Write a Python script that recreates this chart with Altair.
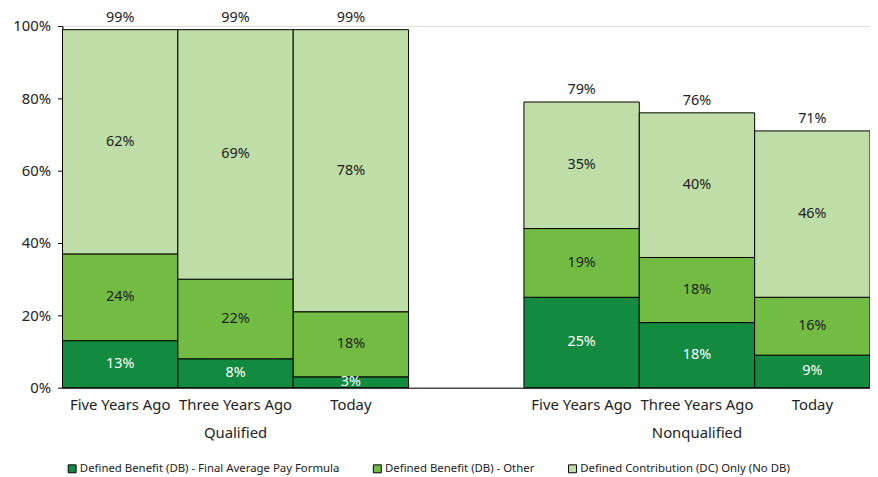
import altair as alt
import pandas as pd

keys = ["Q1", "Q2", "Q3", "gap", "N1", "N2", "N3"]
tick_labels = ["Five Years Ago", "Three Years Ago", "Today", "", "Five Years Ago", "Three Years Ago", "Today"]
bar_keys = ["Q1", "Q2", "Q3", "N1", "N2", "N3"]
series = [
    "Defined Benefit (DB) - Final Average Pay Formula",
    "Defined Benefit (DB) - Other",
    "Defined Contribution (DC) Only (No DB)",
]
db_final = [13, 8, 3, 25, 18, 9]
db_other = [24, 22, 18, 19, 18, 16]
dc_only = [62, 69, 78, 35, 40, 46]
totals = [99, 99, 99, 79, 76, 71]
group_keys = ["Q2", "N2"]
group_names = ["Qualified", "Nonqualified"]
colors = ["#128A3F", "#72BC44", "#BFDDA6"]

rows = []
for i, k in enumerate(bar_keys):
    for j, (s, vals) in enumerate(zip(series, [db_final, db_other, dc_only])):
        rows.append({"key": k, "series": s, "order": j, "value": vals[i]})
df = pd.DataFrame(rows)
tot_df = pd.DataFrame({"key": bar_keys, "total": totals})
grp_df = pd.DataFrame({"key": group_keys, "group": group_names})

FONT = "Noto Sans"
TXT = "#222"
W, H = 815, 365

label_expr = "[" + ",".join("'" + t + "'" for t in tick_labels) + "][indexof([" + ",".join("'" + k + "'" for k in keys) + "], datum.value)]"

xenc = alt.X(
    "key:N",
    sort=keys,
    scale=alt.Scale(domain=keys, paddingInner=0, paddingOuter=0),
    axis=alt.Axis(
        title=None, labelAngle=0, ticks=False, labelExpr=label_expr,
        domainColor="black", labelFontSize=15, labelColor=TXT,
        labelFont=FONT, labelPadding=10,
    ),
)

base = alt.Chart(df)

bars = base.mark_bar(stroke="black", strokeWidth=1).encode(
    x=xenc,
    y=alt.Y(
        "value:Q",
        stack="zero",
        scale=alt.Scale(domain=[0, 100], nice=False),
        axis=alt.Axis(
            title=None, values=[0, 20, 40, 60, 80, 100], labelExpr="datum.value + '%'",
            grid=False, domainColor="black", tickColor="black", tickSize=5,
            labelFontSize=15, labelColor=TXT, labelFont=FONT, labelPadding=7,
        ),
    ),
    color=alt.Color(
        "series:N",
        sort=series,
        scale=alt.Scale(domain=series, range=colors),
        legend=alt.Legend(
            title=None, orient="none", direction="horizontal", legendX=4, legendY=441,
            symbolType="square", symbolStrokeColor="black", symbolStrokeWidth=1,
            symbolSize=64, labelFontSize=11.5, labelFont=FONT, labelColor=TXT,
            columnPadding=31, symbolOffset=0, labelOffset=2, labelLimit=0,
        ),
    ),
    order=alt.Order("order:Q"),
)

seg_text = base.transform_stack(
    stack="value", as_=["v0", "v1"], groupby=["key"], sort=[alt.SortField("order")]
).transform_calculate(
    mid="(datum.v0 + datum.v1) / 2", lab="datum.value + '%'"
).mark_text(fontSize=14.5, font=FONT).encode(
    x=alt.X("key:N", sort=keys, scale=alt.Scale(domain=keys)),
    y=alt.Y("mid:Q"),
    text="lab:N",
    color=alt.condition(alt.datum.order == 0, alt.value("white"), alt.value(TXT)),
)

tot_text = alt.Chart(tot_df).transform_calculate(lab="datum.total + '%'").mark_text(
    fontSize=14.5, font=FONT, baseline="bottom", dy=-5, color=TXT
).encode(
    x=alt.X("key:N", sort=keys, scale=alt.Scale(domain=keys)),
    y=alt.Y("total:Q"),
    text="lab:N",
)

grp_text = alt.Chart(grp_df).mark_text(
    fontSize=15, font=FONT, baseline="middle", color=TXT
).encode(
    x=alt.X("key:N", sort=keys, scale=alt.Scale(domain=keys)),
    y=alt.value(H + 46),
    text="group:N",
)

chart = alt.layer(bars, seg_text, tot_text, grp_text).properties(
    width=W, height=H,
    autosize=alt.AutoSizeParams(type="none"),
).configure_view(stroke=None).configure(padding={"left": 55, "top": 16, "right": 0, "bottom": 95})

chart.save("out.html", embed_options={"renderer": "svg", "actions": False})
